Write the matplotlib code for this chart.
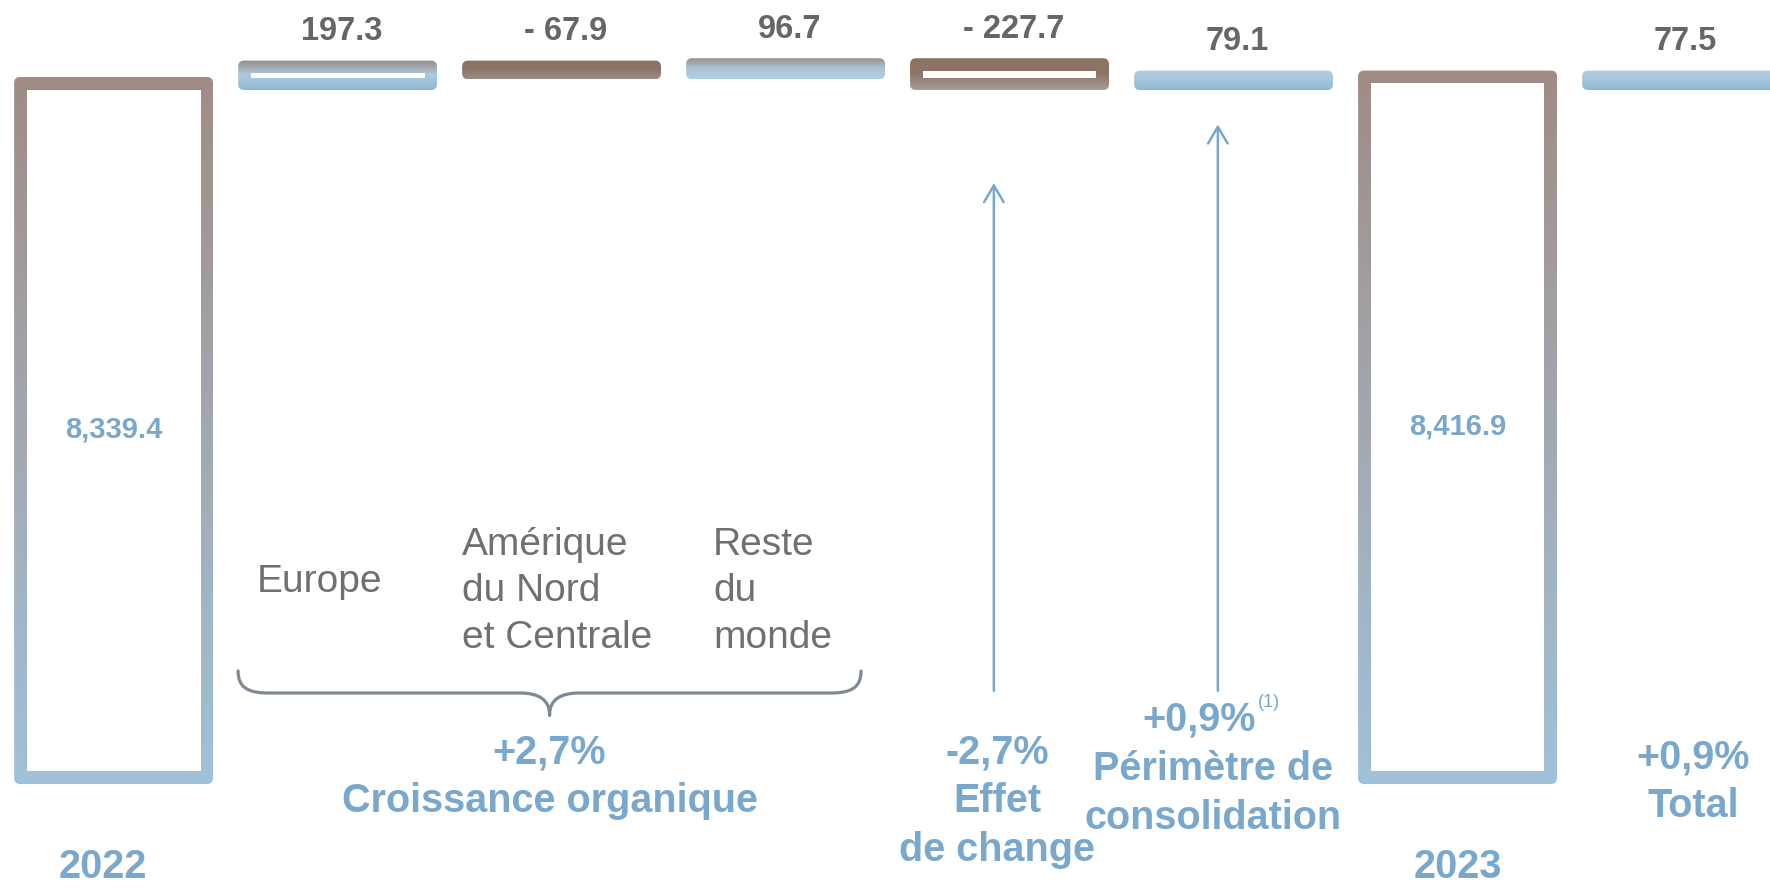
import numpy as np
import matplotlib
matplotlib.use("Agg")
import matplotlib.pyplot as plt
from matplotlib.patches import FancyBboxPatch, Rectangle, PathPatch
from matplotlib.path import Path
from matplotlib.colors import to_rgb

plt.rcParams['font.family'] = ['Liberation Sans', 'DejaVu Sans']

# --- data (chiffre d'affaires, M€) ---
year_start = "2022"
year_end = "2023"
value_start = 8339.4
value_end = 8416.9
step_names = ["Europe", "Amérique\ndu Nord\net Centrale", "Reste\ndu\nmonde",
              "Effet de change", "Périmètre de consolidation"]
step_deltas = [197.3, -67.9, 96.7, -227.7, 79.1]
total_change = 77.5

# --- style ---
blue = "#7aa8cc"
grey_val = "#666666"
grey_lab = "#707070"
big_stops = ["#a08c84", "#a3a8b2", "#a0c2d8"]
step_stops = [
    ["#9a8a86", "#aecbdf", "#8fb8d3"],   # Europe
    ["#8a7264", "#8c7567", "#9c8d88"],   # Amerique
    ["#9a8a86", "#a9c3d6", "#b0d0e3"],   # Reste
    ["#8a7264", "#8c7567", "#aa9d98"],   # change
    ["#b0cde0", "#a6c7dc", "#8fb8d3"],   # perimetre
]
total_stops = ["#b0cde0", "#a6c7dc", "#8fb8d3"]
bar_w = 0.888

fig = plt.figure(figsize=(17.7, 8.88), dpi=100)
ax = fig.add_axes([0, 0, 1, 1])
ax.set_xlim(-0.507, 7.395)
ax.set_ylim(-1406, 9265)
ax.set_autoscale_on(False)
ax.axis('off')

# pixel sizes in data units
p0 = ax.transData.transform((0, 0))
p1 = ax.transData.transform((1, 1))
sx, sy = p1[0] - p0[0], p1[1] - p0[1]
pad = 13.0
border = 12.5
radius = 6.0


def gradient(stops, n=256):
    cols = np.array([to_rgb(c) for c in stops])
    t = np.linspace(0, 1, n)
    pos = np.linspace(0, 1, len(stops))
    arr = np.stack([np.interp(t, pos, cols[:, k]) for k in range(3)], axis=1)
    return arr[:, None, :]


def draw_bar(i, lo, hi, stops):
    x0 = i - bar_w / 2
    ylo = lo - pad / sy
    patch = FancyBboxPatch((x0, ylo), bar_w, hi - ylo,
                           boxstyle=f"round,pad=0,rounding_size={radius / sx}",
                           mutation_aspect=sx / sy, facecolor='none',
                           edgecolor='none', transform=ax.transData)
    ax.add_patch(patch)
    im = ax.imshow(gradient(stops), extent=(x0, x0 + bar_w, ylo, hi),
                   aspect='auto', interpolation='bilinear', zorder=2)
    im.set_clip_path(patch)
    inner_h = (hi - ylo) * sy - 2 * border
    if inner_h >= 3:
        ax.add_patch(Rectangle((x0 + border / sx, ylo + border / sy),
                               bar_w - 2 * border / sx, inner_h / sy,
                               facecolor='white', edgecolor='none', zorder=3))


# bars
n_steps = len(step_deltas)
draw_bar(0, 0, value_start, big_stops)
level = value_start
tops = []
for k, d in enumerate(step_deltas):
    i = k + 1
    lo, hi = min(level, level + d), max(level, level + d)
    draw_bar(i, lo, hi, step_stops[k])
    tops.append(hi)
    level += d
i_end = n_steps + 1
draw_bar(i_end, 0, value_end, big_stops)
draw_bar(i_end + 1, value_start, value_start + total_change, total_stops)
tops.append(value_start + total_change)


def fmt_delta(v):
    return f"{v:.1f}" if v >= 0 else f"- {abs(v):.1f}"


for k, (d, top) in enumerate(zip(step_deltas + [total_change], tops)):
    i = k + 1 if k < n_steps else i_end + 1
    ax.annotate(fmt_delta(d), xy=(i, top), xytext=(3, 21), textcoords='offset points',
                ha='center', va='center', fontsize=23.5, fontweight='bold', color=grey_val)

for i, v in [(0, value_start), (i_end, value_end)]:
    ax.annotate(f"{v:,.1f}", xy=(i, v / 2), xytext=(0, -4), textcoords='offset points',
                ha='center', va='center', fontsize=21, fontweight='bold', color=blue)

# region labels
bt = ax.get_xaxis_transform()
region_x = [0.641, 1.556, 2.676]
region_y = [0.345, 0.334, 0.334]
for name, x, y in zip(step_names[:3], region_x, region_y):
    ax.text(x, y, name, transform=bt, ha='left', va='center', fontsize=28,
            color=grey_lab, linespacing=1.38)

# brace under the three regions
bl = 1 - bar_w / 2
br = 3 + bar_w / 2 - 0.107
bc = (bl + br) / 2
rx = 0.134
y_end, y_mid, y_tip = 0.2444, 0.2196, 0.1948
verts = [(bl, y_end), (bl, y_mid + 0.006), (bl + 0.045, y_mid), (bl + rx, y_mid),
         (bc - rx, y_mid),
         (bc - 0.045, y_mid), (bc, y_mid - 0.008), (bc, y_tip),
         (bc, y_tip),
         (bc, y_mid - 0.008), (bc + 0.045, y_mid), (bc + rx, y_mid),
         (br - rx, y_mid),
         (br - 0.045, y_mid), (br, y_mid + 0.006), (br, y_end)]
codes = [Path.MOVETO, Path.CURVE4, Path.CURVE4, Path.CURVE4,
         Path.LINETO,
         Path.CURVE4, Path.CURVE4, Path.CURVE4,
         Path.MOVETO,
         Path.CURVE4, Path.CURVE4, Path.CURVE4,
         Path.LINETO,
         Path.CURVE4, Path.CURVE4, Path.CURVE4]
ax.add_patch(PathPatch(Path(verts, codes), transform=bt, facecolor='none',
                       edgecolor='#7f8a95', lw=2.3, capstyle='round'))

# percentages
def pct(v):
    return f"{v / value_start * 100:+.1f}%".replace('.', ',')


organic = sum(step_deltas[:3])
bold = dict(ha='center', va='center', fontsize=28.5, fontweight='bold', color=blue,
            linespacing=1.36, transform=bt)
ax.text(bc, 0.125, pct(organic) + "\nCroissance organique", **bold)
ax.text(3.944, 0.098, pct(step_deltas[3]) + "\nEffet\nde change", **bold)
ax.text(4.846, 0.190, pct(step_deltas[4]), **bold)
ax.text(5.11, 0.209, "(1)", transform=bt, ha='left', va='center', fontsize=13, color=blue)
ax.text(4.908, 0.106, "Périmètre de\nconsolidation", **bold)
ax.text(i_end + 1 + 0.051, 0.120, pct(total_change) + "\nTotal", **bold)
ax.text(-0.047, 0.024, year_start, **bold)
ax.text(i_end, 0.024, year_end, **bold)

# arrows for change and perimetre
for i, tip in [(4, 0.794), (5, 0.860)]:
    ax.annotate('', xy=(i - 0.07, tip), xycoords=bt, xytext=(i - 0.07, 0.222), textcoords=bt,
                arrowprops=dict(arrowstyle='->,head_length=0.6,head_width=0.35', color=blue,
                                lw=1.8, mutation_scale=20, shrinkA=0, shrinkB=0))

fig.savefig('out.png', dpi=100)
